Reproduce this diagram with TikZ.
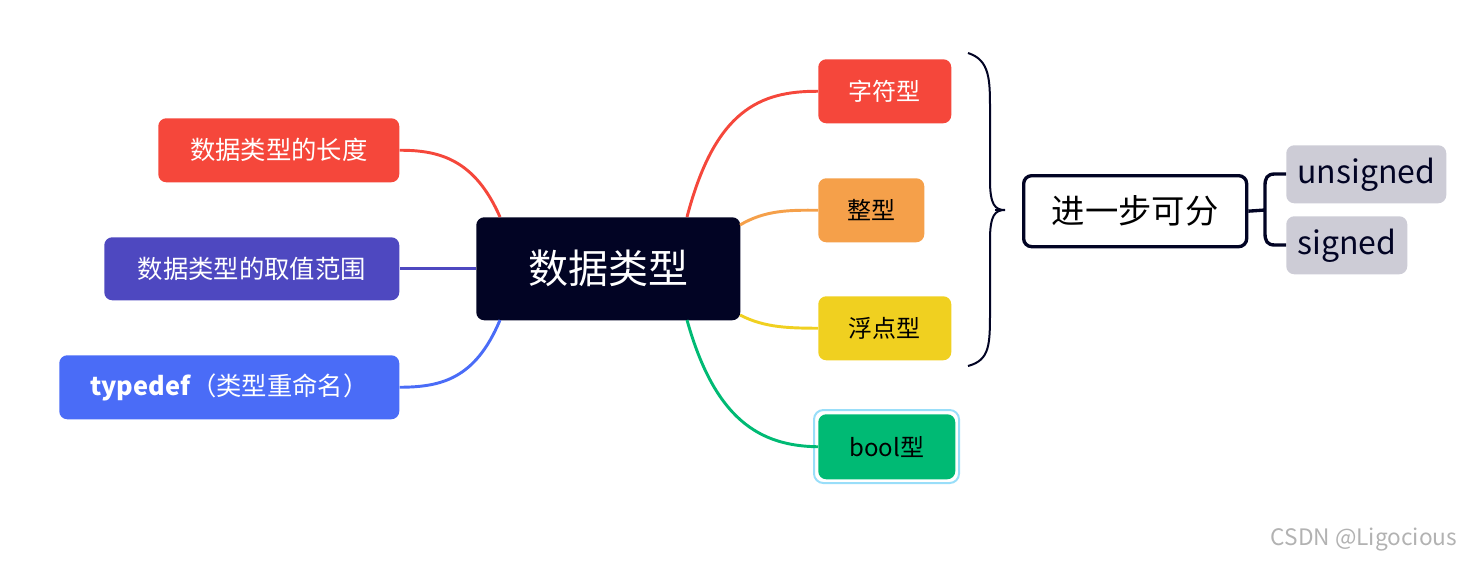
\documentclass[tikz,border=0pt]{standalone}
\usepackage{fontspec}
\setmainfont{Noto Sans CJK SC}
\begin{document}
\begin{tikzpicture}[x=0.75pt,y=-0.75pt,
 box/.style={rounded corners=6pt,inner sep=0pt,anchor=north west,align=center},
 lnk/.style={line width=2.2pt}]
\definecolor{navy}{HTML}{020424}
\definecolor{cred}{HTML}{F5473B}
\definecolor{cpur}{HTML}{4E48C0}
\definecolor{cblu}{HTML}{4A6CF7}
\definecolor{cora}{HTML}{F5A04A}
\definecolor{cyel}{HTML}{F0D020}
\definecolor{cgrn}{HTML}{00BA74}
\definecolor{cgry}{HTML}{CDCCD6}
\useasboundingbox (0,0) rectangle (1467,565);
\newcommand{\bx}[7]{\node[box,fill=#5,text=#6,minimum width=#3*0.75pt,minimum height=#4*0.75pt] (#7) at (#1,#2) {#5};}
\node[box,fill=navy,text=white,minimum width=264*0.75pt,minimum height=103*0.75pt,font=\fontsize{30}{32}\selectfont] (c) at (476,217) {数据类型};
\node[box,fill=cred,text=white,minimum width=241*0.75pt,minimum height=64*0.75pt,font=\fontsize{19}{22}\selectfont] (l1) at (158,118) {数据类型的长度};
\node[box,fill=cpur,text=white,minimum width=295*0.75pt,minimum height=63*0.75pt,font=\fontsize{19}{22}\selectfont] (l2) at (104,237) {数据类型的取值范围};
\node[box,fill=cblu,text=white,minimum width=340*0.75pt,minimum height=64*0.75pt,font=\fontsize{19}{22}\selectfont] (l3) at (59,355) {\textbf{typedef}（类型重命名）};
\node[box,fill=cred,text=white,minimum width=133*0.75pt,minimum height=64*0.75pt,font=\fontsize{18}{22}\selectfont] (r1) at (818,59) {字符型};
\node[box,fill=cora,text=black,minimum width=106*0.75pt,minimum height=64*0.75pt,font=\fontsize{18}{22}\selectfont] (r2) at (818,178) {整型};
\node[box,fill=cyel,text=black,minimum width=133*0.75pt,minimum height=64*0.75pt,font=\fontsize{18}{22}\selectfont] (r3) at (818,296) {浮点型};
\draw[cyan!40,line width=1.5pt,rounded corners=7pt] (814,410) rectangle (959,483);
\node[box,fill=cgrn,text=black,minimum width=137*0.75pt,minimum height=65*0.75pt,font=\fontsize{18}{22}\selectfont] (r4) at (818,414) {bool型};
\node[box,draw=navy,line width=2.5pt,fill=white,text=black,minimum width=223*0.75pt,minimum height=71*0.75pt,font=\fontsize{25}{28}\selectfont] (sub) at (1022,174) {进一步可分};
\node[box,fill=cgry,text=navy,minimum width=160*0.75pt,minimum height=58*0.75pt,font=\fontsize{24}{28}\selectfont] (u) at (1286,145) {unsigned};
\node[box,fill=cgry,text=navy,minimum width=121*0.75pt,minimum height=58*0.75pt,font=\fontsize{24}{28}\selectfont] (s) at (1286,216) {signed};
\coordinate (ct) at (500,217); \coordinate (cb) at (500,320);
\coordinate (crt) at (687,217); \coordinate (crb) at (687,320);
\draw[lnk,cred] (ct) .. controls (475,160) and (440,150) .. (l1.east);
\draw[lnk,cpur] (c.west) -- (l2.east);
\draw[lnk,cblu] (cb) .. controls (475,380) and (440,387) .. (l3.east);
\draw[lnk,cred] (crt) .. controls (715,110) and (760,91) .. (r1.west);
\draw[lnk,cora] (740,225) .. controls (765,210) and (790,210) .. (r2.west);
\draw[lnk,cyel] (740,315) .. controls (765,328) and (790,328) .. (r3.west);
\draw[lnk,cgrn] (crb) .. controls (715,420) and (760,446) .. (r4.west);
\draw[navy,line width=1.5pt] (968,53) .. controls (990,60) and (990,80) .. (990,110) -- (990,180) .. controls (990,205) and (995,210) .. (1005,210) .. controls (995,210) and (990,215) .. (990,240) -- (990,310) .. controls (990,345) and (990,360) .. (968,366);
\draw[navy,line width=1.5pt] (995,210) -- (1005,210);
\draw[navy,line width=2.5pt] (sub.east) -- (1265,210) (1286,174) -- (1275,174) .. controls (1267,174) and (1265,178) .. (1265,186) -- (1265,233) .. controls (1265,241) and (1267,245) .. (1275,245) -- (1286,245);
\node[text=gray!60,font=\fontsize{17}{20}\selectfont,anchor=east] (wm) at (1462,540) {CSDN @Ligocious};
\end{tikzpicture}
\end{document}
